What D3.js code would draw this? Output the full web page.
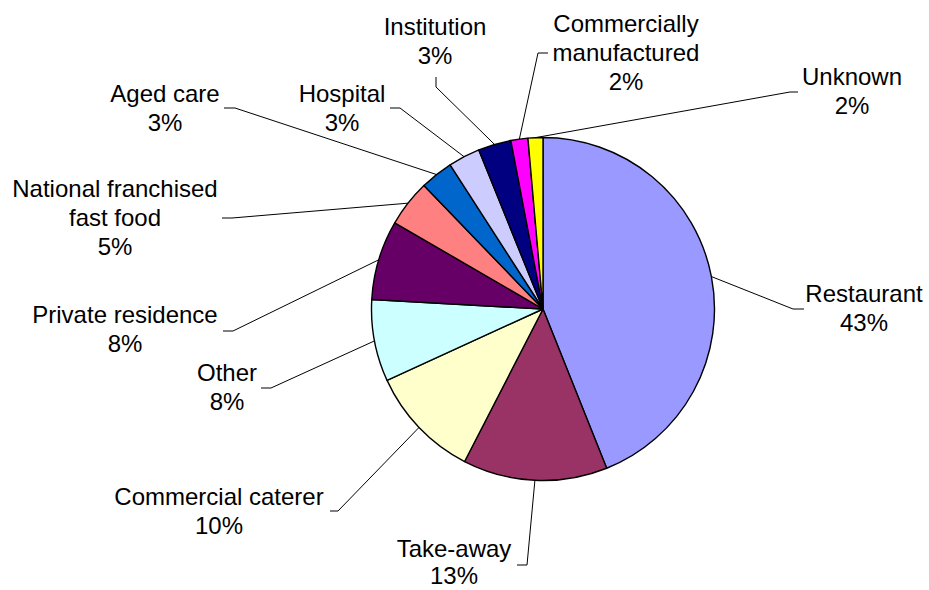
<!DOCTYPE html>
<html>
<head>
<meta charset="utf-8">
<script src="https://cdn.jsdelivr.net/npm/d3@7"></script>
<style>
html,body{margin:0;padding:0;background:#fff;}
svg{display:block;}
text{font-family:"Liberation Sans",Arial,sans-serif;font-size:24px;fill:#000;}
</style>
</head>
<body>
<svg id="chart" width="929" height="590"></svg>
<script>
// Data
const categories = ["Restaurant","Take-away","Commercial caterer","Other","Private residence",
  "National franchised fast food","Aged care","Hospital","Institution","Commercially manufactured","Unknown"];
const values = [43.9,13.6,10.6,7.7,7.5,4.4,3.1,3.0,3.1,1.6,1.4];
const percentLabels = ["43%","13%","10%","8%","8%","5%","3%","3%","3%","2%","2%"];
const labelLines = [["Restaurant"],["Take-away"],["Commercial caterer"],["Other"],["Private residence"],
  ["National franchised","fast food"],["Aged care"],["Hospital"],["Institution"],["Commercially","manufactured"],["Unknown"]];
const colors = ["#9999FF","#993366","#FFFFCC","#CCFFFF","#660066","#FF8080","#0066CC","#CCCCFF","#000080","#FF00FF","#FFFF00"];

// Layout (label placement: text centre x, first baseline y, line gap, elbow and end of leader line)
const layout = [
  {x:864, y:302, gap:29, elbow:[793,309], end:[804,309]},
  {x:454, y:557, gap:27, elbow:[527,565], end:[517,565]},
  {x:219, y:505, gap:29, elbow:[338,511], end:[330,511]},
  {x:227, y:381, gap:29, elbow:[271,388], end:[261,388]},
  {x:125, y:323, gap:29, elbow:[233,331], end:[223,331]},
  {x:115, y:197, gap:29, elbow:[232,218], end:[222,218]},
  {x:165, y:102, gap:29, elbow:[235,108], end:[224,108]},
  {x:342, y:102, gap:29, elbow:[400,108], end:[390,108]},
  {x:435, y:35,  gap:29, elbow:[436,87],  end:[436,77]},
  {x:626, y:32,  gap:29, elbow:[538,53],  end:[548,53]},
  {x:852, y:85,  gap:29, elbow:[790,92],  end:[798,92]}
];
const cx = 543, cy = 309, R = 171.5;

const svg = d3.select("#chart");
const g = svg.append("g").attr("transform", `translate(${cx},${cy})`);

const pie = d3.pie().sort(null).value(d => d)(values);
const arc = d3.arc().innerRadius(0).outerRadius(R);
const edge = d3.arc().innerRadius(R).outerRadius(R);

g.selectAll("path.slice").data(pie).join("path")
  .attr("class","slice")
  .attr("d", arc)
  .attr("fill", (d,i) => colors[i])
  .attr("stroke", "#000")
  .attr("stroke-width", 1.4)
  .attr("stroke-linejoin","round");

// leader lines
svg.selectAll("path.leader").data(pie).join("path")
  .attr("class","leader")
  .attr("fill","none")
  .attr("stroke","#000")
  .attr("stroke-width",1)
  .attr("d", (d,i) => {
    const c = edge.centroid(d);
    const L = layout[i];
    return d3.line()([[cx + c[0], cy + c[1]], L.elbow, L.end]);
  });

// labels
const lbl = svg.selectAll("text.lbl").data(pie).join("text")
  .attr("class","lbl")
  .attr("text-anchor","middle");
lbl.each(function(d,i){
  const t = d3.select(this);
  const lines = labelLines[i].concat([percentLabels[i]]);
  lines.forEach((s,k) => {
    t.append("tspan").attr("x", layout[i].x).attr("y", layout[i].y + k*layout[i].gap).text(s);
  });
});
</script>
</body>
</html>
